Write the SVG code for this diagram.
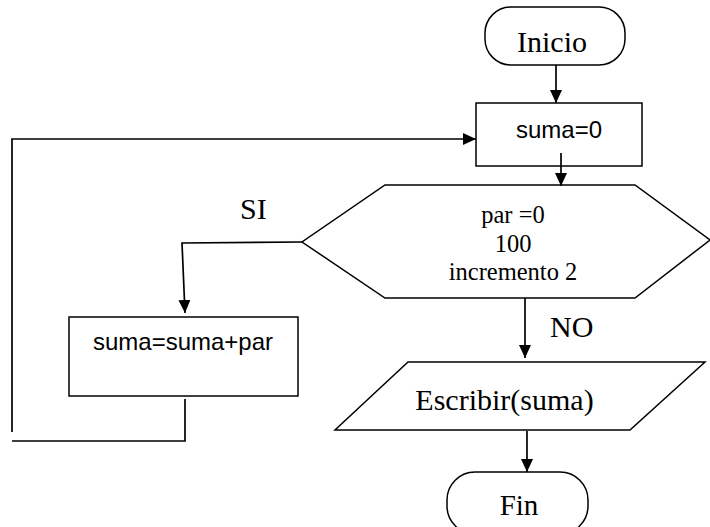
<svg xmlns="http://www.w3.org/2000/svg" width="710" height="527" viewBox="0 0 710 527">
<style>
.s{fill:#fff;stroke:#000;stroke-width:1.5}
.c{fill:none;stroke:#000;stroke-width:1.7}
.serif{font-family:"Liberation Serif","Times New Roman",serif;fill:#000}
.sans{font-family:"Liberation Sans",Arial,sans-serif;fill:#000}
</style>
<defs>
<marker id="ah" markerUnits="userSpaceOnUse" markerWidth="14" markerHeight="14" refX="13" refY="6" orient="auto">
<path d="M0,0 L13,6 L0,12 Z" fill="#000"/>
</marker>
</defs>
<rect width="710" height="527" fill="#fff"/>
<g id="inicio">
<rect class="s" x="485" y="7" width="140" height="58" rx="26" ry="26"/>
<text class="serif" x="552" y="52" font-size="30" text-anchor="middle">Inicio</text>
</g>
<g id="suma0">
<rect class="s" x="476" y="103" width="166" height="63"/>
<text class="sans" x="559" y="138" font-size="24" text-anchor="middle">suma=0</text>
</g>
<g id="loop">
<polygon class="s" points="385,185 635,185 710,240 635,298 385,298 302,242"/>
<text class="serif" x="513" y="223" font-size="24.5" text-anchor="middle">par =0</text>
<text class="serif" x="513" y="252" font-size="24.5" text-anchor="middle">100</text>
<text class="serif" x="513" y="280" font-size="24.5" text-anchor="middle">incremento 2</text>
</g>
<g id="acum">
<rect class="s" x="69" y="317" width="229" height="79"/>
<text class="sans" x="183" y="350" font-size="24" text-anchor="middle">suma=suma+par</text>
</g>
<g id="escribir">
<polygon class="s" points="408,362 705,362 630,430 335,430"/>
<text class="serif" x="504.5" y="410" font-size="30" text-anchor="middle">Escribir(suma)</text>
</g>
<g id="fin">
<rect class="s" x="447" y="472" width="141" height="62" rx="28" ry="28"/>
<text class="serif" x="519" y="515" font-size="29" text-anchor="middle">Fin</text>
</g>
<g id="connectors">
<line class="c" x1="556" y1="65" x2="556" y2="103" marker-end="url(#ah)"/>
<line class="c" x1="561" y1="153" x2="561" y2="186" marker-end="url(#ah)"/>
<polyline class="c" points="302,242 182,243 185,313" marker-end="url(#ah)"/>
<polyline class="c" points="185,399 185,441 12,441"/>
<polyline class="c" points="12,432 12,139 476,139" marker-end="url(#ah)"/>
<line class="c" x1="525" y1="298" x2="525" y2="358" marker-end="url(#ah)"/>
<line class="c" x1="527" y1="431" x2="527" y2="472" marker-end="url(#ah)"/>
<text class="serif" x="240" y="219" font-size="30">SI</text>
<text class="serif" x="550" y="337" font-size="30">NO</text>
</g>
</svg>
